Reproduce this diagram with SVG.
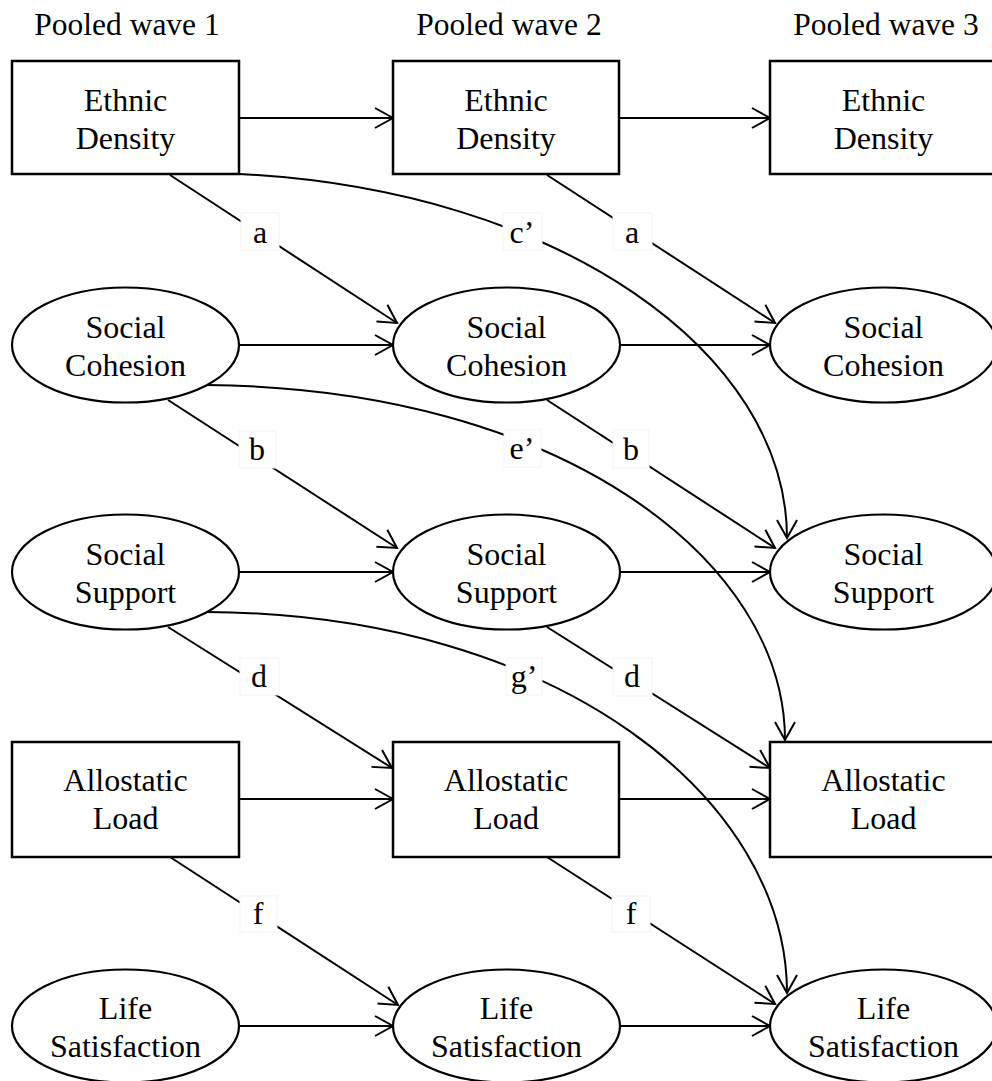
<svg xmlns="http://www.w3.org/2000/svg" width="992" height="1081" viewBox="0 0 992 1081">
<style>
text{font-family:"Liberation Serif","Times New Roman",serif;fill:#000;text-anchor:middle}
.hd{font-size:31.5px}
.nt{font-size:32px}
.lb{font-size:32px}
.box{fill:#fff;stroke:#000;stroke-width:2.5}
.ell{fill:#fff;stroke:#000;stroke-width:2.2}
.ln{fill:none;stroke:#000;stroke-width:2;marker-end:url(#arr)}
.lbg{fill:#fff;stroke:#f3f3f3;stroke-width:1}
</style>
<defs>
<marker id="arr" viewBox="-21 -12 23 24" refX="0" refY="0" markerWidth="23" markerHeight="24" markerUnits="userSpaceOnUse" orient="auto">
<path d="M-18,-10 L0,0 L-18,10" fill="none" stroke="#000" stroke-width="2"/>
</marker>
</defs>
<rect width="992" height="1081" fill="#fff"/>
<g id="headers">
<text class="hd" x="127" y="35">Pooled wave 1</text>
<text class="hd" x="509" y="35">Pooled wave 2</text>
<text class="hd" x="886" y="35">Pooled wave 3</text>
</g>
<g id="connectors">
<path class="ln" d="M239,118 H393"/>
<path class="ln" d="M619,118 H770"/>
<path class="ln" d="M239,345 H393"/>
<path class="ln" d="M620,345 H770"/>
<path class="ln" d="M239,572 H393"/>
<path class="ln" d="M620,572 H770"/>
<path class="ln" d="M239,799 H393"/>
<path class="ln" d="M619,799 H770"/>
<path class="ln" d="M239,1026 H393"/>
<path class="ln" d="M620,1026 H770"/>
<path class="ln" d="M170,175 L397,323"/>
<path class="ln" d="M547,175 L775,323"/>
<path class="ln" d="M168,400 L397,548"/>
<path class="ln" d="M547,400 L775,548"/>
<path class="ln" d="M168,627 L392,768"/>
<path class="ln" d="M547,627 L770,768"/>
<path class="ln" d="M170,857 L398,1005"/>
<path class="ln" d="M547,857 L775,1004"/>
<path class="ln" d="M239,174 C560,190 787,353 787,538"/>
<path class="ln" d="M207,385 C560,388 785,560 785,740"/>
<path class="ln" d="M207,612 C560,614 787,800 787,993"/>
<g id="labels">
<rect class="lbg" x="241" y="213" width="38" height="37"/><text class="lb" x="260" y="243">a</text>
<rect class="lbg" x="503" y="213" width="39" height="37"/><text class="lb" x="522" y="243">c’</text>
<rect class="lbg" x="613" y="213" width="39" height="37"/><text class="lb" x="632" y="243">a</text>
<rect class="lbg" x="239" y="431" width="37" height="37"/><text class="lb" x="257" y="460">b</text>
<rect class="lbg" x="504" y="430" width="37" height="37"/><text class="lb" x="522" y="459">e’</text>
<rect class="lbg" x="613" y="430" width="36" height="38"/><text class="lb" x="631" y="460">b</text>
<rect class="lbg" x="240" y="658" width="39" height="37"/><text class="lb" x="259" y="687">d</text>
<rect class="lbg" x="506" y="658" width="36" height="37"/><text class="lb" x="524" y="687">g’</text>
<rect class="lbg" x="613" y="658" width="39" height="38"/><text class="lb" x="632" y="687">d</text>
<rect class="lbg" x="240" y="896" width="37" height="36"/><text class="lb" x="258" y="924">f</text>
<rect class="lbg" x="612" y="896" width="38" height="36"/><text class="lb" x="631" y="924">f</text>
</g>
</g>
<g id="ed1"><rect class="box" x="12" y="61" width="227" height="113"/><text class="nt" x="125.5" y="111">Ethnic</text><text class="nt" x="125.5" y="149">Density</text></g>
<g id="ed2"><rect class="box" x="393" y="61" width="226" height="113"/><text class="nt" x="506" y="111">Ethnic</text><text class="nt" x="506" y="149">Density</text></g>
<g id="ed3"><rect class="box" x="770" y="61" width="227" height="113"/><text class="nt" x="883.5" y="111">Ethnic</text><text class="nt" x="883.5" y="149">Density</text></g>
<g id="sc1"><ellipse class="ell" cx="125.5" cy="345" rx="113.5" ry="57.5"/><text class="nt" x="125.5" y="338">Social</text><text class="nt" x="125.5" y="376">Cohesion</text></g>
<g id="sc2"><ellipse class="ell" cx="506.5" cy="345" rx="113.5" ry="57.5"/><text class="nt" x="506.5" y="338">Social</text><text class="nt" x="506.5" y="376">Cohesion</text></g>
<g id="sc3"><ellipse class="ell" cx="883.5" cy="345" rx="113.5" ry="57.5"/><text class="nt" x="883.5" y="338">Social</text><text class="nt" x="883.5" y="376">Cohesion</text></g>
<g id="ss1"><ellipse class="ell" cx="125.5" cy="572" rx="113.5" ry="57.5"/><text class="nt" x="125.5" y="565">Social</text><text class="nt" x="125.5" y="603">Support</text></g>
<g id="ss2"><ellipse class="ell" cx="506.5" cy="572" rx="113.5" ry="57.5"/><text class="nt" x="506.5" y="565">Social</text><text class="nt" x="506.5" y="603">Support</text></g>
<g id="ss3"><ellipse class="ell" cx="883.5" cy="572" rx="113.5" ry="57.5"/><text class="nt" x="883.5" y="565">Social</text><text class="nt" x="883.5" y="603">Support</text></g>
<g id="al1"><rect class="box" x="12" y="742" width="227" height="115"/><text class="nt" x="125.5" y="791">Allostatic</text><text class="nt" x="125.5" y="829">Load</text></g>
<g id="al2"><rect class="box" x="393" y="742" width="226" height="115"/><text class="nt" x="506" y="791">Allostatic</text><text class="nt" x="506" y="829">Load</text></g>
<g id="al3"><rect class="box" x="770" y="742" width="227" height="115"/><text class="nt" x="883.5" y="791">Allostatic</text><text class="nt" x="883.5" y="829">Load</text></g>
<g id="ls1"><ellipse class="ell" cx="125.5" cy="1026" rx="113.5" ry="56.5"/><text class="nt" x="125.5" y="1019">Life</text><text class="nt" x="125.5" y="1057">Satisfaction</text></g>
<g id="ls2"><ellipse class="ell" cx="506.5" cy="1026" rx="113.5" ry="56.5"/><text class="nt" x="506.5" y="1019">Life</text><text class="nt" x="506.5" y="1057">Satisfaction</text></g>
<g id="ls3"><ellipse class="ell" cx="883.5" cy="1026" rx="113.5" ry="56.5"/><text class="nt" x="883.5" y="1019">Life</text><text class="nt" x="883.5" y="1057">Satisfaction</text></g>
</svg>
